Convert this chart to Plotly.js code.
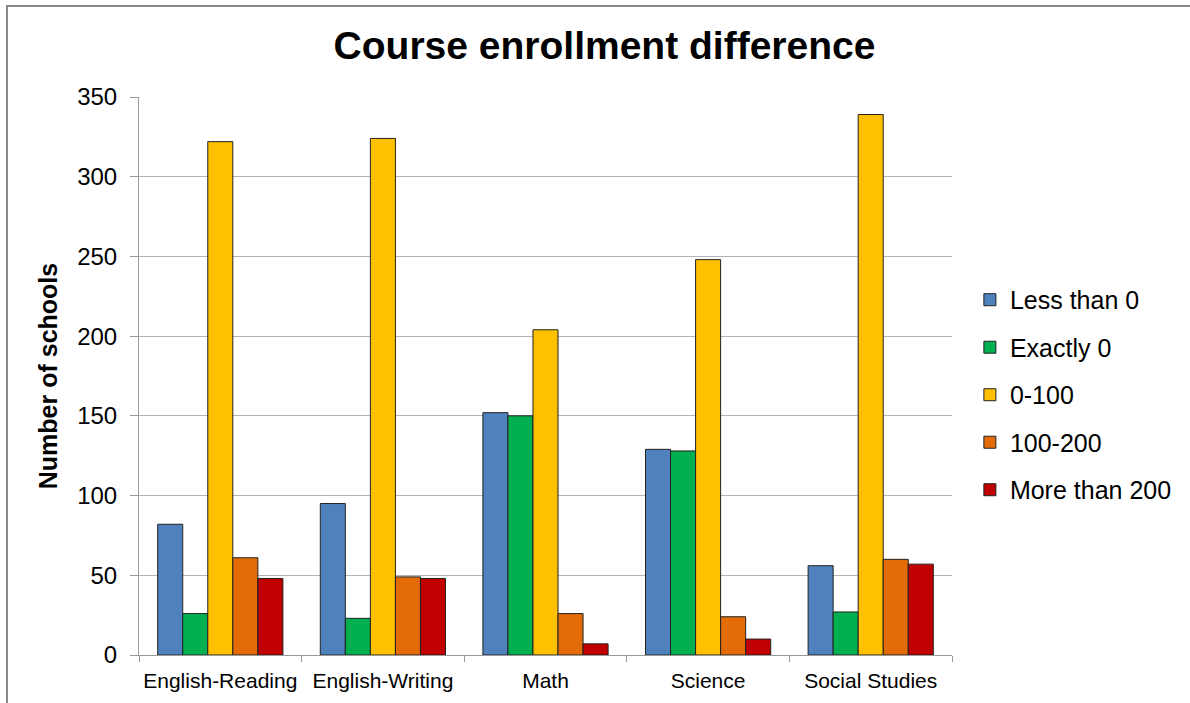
<!DOCTYPE html>
<html>
<head>
<meta charset="utf-8">
<script src="https://cdn.plot.ly/plotly-3.0.1.min.js"></script>
<style>
  html, body { margin: 0; padding: 0; background: #fff; overflow: hidden; }
  #frame { position: absolute; left: 6px; top: 5px; width: 1250px; height: 760px; border: 2px solid #888; box-sizing: border-box; }
  #chart { position: absolute; left: 0; top: 0; width: 1190px; height: 703px; }
</style>
</head>
<body>
<div id="frame"></div>
<div id="chart"></div>
<script>
const categories = ["English-Reading", "English-Writing", "Math", "Science", "Social Studies"];
const seriesNames = ["Less than 0", "Exactly 0", "0-100", "100-200", "More than 200"];
const lessThan0   = [82, 95, 152, 129, 56];
const exactly0    = [26, 23, 150, 128, 27];
const range0to100 = [322, 324, 204, 248, 339];
const range100to200 = [61, 49, 26, 24, 60];
const moreThan200 = [48, 48, 7, 10, 57];
const seriesValues = [lessThan0, exactly0, range0to100, range100to200, moreThan200];
const seriesColors = ["#4F81BD", "#00B050", "#FFC000", "#E36C09", "#C00000"];
const yTickValues = [0, 50, 100, 150, 200, 250, 300, 350];

const traces = seriesNames.map((name, i) => ({
  type: "bar",
  name: name,
  x: categories,
  y: seriesValues[i],
  legendgroup: "g" + i,
  marker: { color: seriesColors[i], line: { color: "#222", width: 1 } }
}));

const layout = {
  width: 1190,
  height: 703,
  paper_bgcolor: "rgba(0,0,0,0)",
  plot_bgcolor: "rgba(0,0,0,0)",
  font: { family: "Liberation Sans, Arial, sans-serif", color: "#000" },
  margin: { l: 139, r: 238, t: 97, b: 48 },
  title: {
    text: "<b>Course enrollment difference</b>",
    font: { size: 39, color: "#000" },
    x: 0.508, xanchor: "center", xref: "container",
    y: 0.935, yanchor: "middle", yref: "container"
  },
  barmode: "group",
  bargap: 0.23,
  bargroupgap: 0,
  xaxis: {
    type: "category",
    tickson: "boundaries",
    ticks: "outside",
    ticklen: 6,
    tickcolor: "#999",
    showline: true,
    linecolor: "#999",
    linewidth: 1,
    showgrid: false,
    tickangle: 0,
    tickfont: { size: 21 },
    ticklabelstandoff: 7
  },
  yaxis: {
    range: [0, 350],
    tickvals: yTickValues,
    ticks: "outside",
    ticklen: 8,
    tickcolor: "#999",
    showline: true,
    linecolor: "#999",
    linewidth: 1,
    showgrid: true,
    gridcolor: "#b4b4b4",
    gridwidth: 1,
    zeroline: false,
    tickfont: { size: 24 },
    ticklabelstandoff: 8,
    title: { text: "<b>Number of schools</b>", font: { size: 25 }, standoff: 12 }
  },
  legend: {
    x: 1.022, xanchor: "left",
    y: 0.466, yanchor: "middle",
    font: { size: 25 },
    tracegroupgap: 12,
    bgcolor: "rgba(0,0,0,0)"
  },
  showlegend: true
};

Plotly.newPlot("chart", traces, layout, { displayModeBar: false, staticPlot: true });
</script>
</body>
</html>
